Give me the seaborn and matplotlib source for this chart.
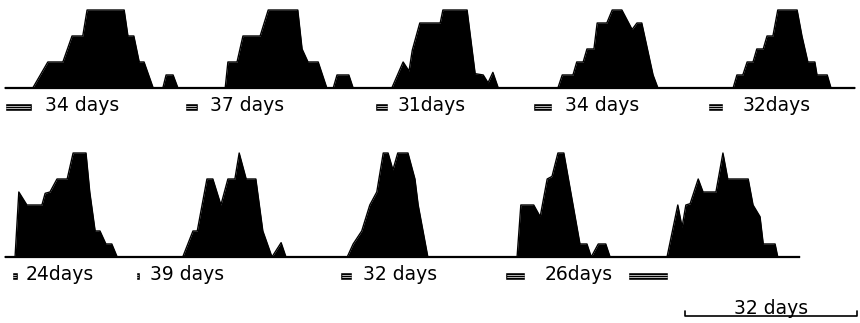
import matplotlib
matplotlib.use("Agg")
import matplotlib.pyplot as plt
import seaborn as sns
import numpy as np

# activity profiles, x in days, level in counts
row1_day = [0.9, 6.1, 8.9, 11.7, 13.4, 15.4, 16.2, 23.1, 23.8, 24.9, 25.9, 26.8, 28.5,
            30.3, 30.9, 32.2, 33.1,
            41.9, 42.4, 44.1, 45.2, 48.4, 49.9, 55.4, 56.2, 57.3, 59.2, 60.8,
            62.0, 62.7, 64.9, 65.7,
            72.9, 75.0, 76.1, 76.7, 78.1, 81.9, 82.4, 86.9, 88.4, 89.9, 90.8, 91.7, 92.7,
            103.8, 104.6, 106.6, 107.3, 108.5, 109.2, 110.5, 111.1, 112.9, 113.9, 115.7,
            117.6, 118.5, 119.4, 121.5, 122.4,
            136.4, 137.1, 138.2, 139.0, 140.1, 140.8, 142.0, 142.7, 143.8, 144.7, 148.3,
            149.2, 150.3, 151.6, 152.0, 153.9, 154.6, 159.1]
row1_level = [0, 0, 2, 2, 4, 4, 6, 6, 4, 4, 2, 2, 0,
              0, 1, 1, 0,
              0, 2, 2, 4, 4, 6, 6, 3, 2, 2, 0,
              0, 1, 1, 0,
              0, 2, 1.3, 2.9, 5, 5, 6, 6, 1.1, 1, 0.4, 1.2, 0,
              0, 1, 1, 2, 2, 3, 3, 5, 5, 6, 6,
              4.5, 5, 5, 1, 0,
              0, 1, 1, 2, 2, 3, 3, 4, 4, 6, 6,
              4, 2, 2, 1, 1, 0, 0]

row2_day = [0.9, 2.8, 3.5, 5.0, 7.8, 8.4, 9.3, 10.6, 12.5, 13.6, 16.0, 16.7, 17.7,
            18.6, 19.7, 20.8, 21.8,
            34.0, 35.9, 36.7, 38.5, 39.6, 41.1, 42.4, 43.7, 44.5, 45.8, 47.6, 48.9,
            50.6, 52.3, 53.2,
            64.6, 65.7, 67.3, 68.8, 70.1, 71.3, 72.2, 73.1, 74.0, 75.9, 77.2, 77.8, 79.6,
            96.2, 96.9, 99.3, 100.5, 101.8, 102.7, 103.8, 104.9, 107.9, 109.2, 110.0,
            111.3, 112.7, 113.5,
            124.1, 126.1, 126.9, 127.6, 128.4, 129.9, 130.8, 133.2, 134.5, 135.4, 139.2,
            140.1, 141.4, 142.0, 144.2, 144.7, 148.8]
row2_level = [0, 0, 5, 4, 4, 4.9, 5, 6, 6, 8, 8, 5, 2,
              2, 1, 1, 0,
              0, 2, 2, 6, 6, 4, 6, 6, 8, 6, 6, 2,
              0, 1.1, 0,
              0, 1, 2, 4, 5, 8, 8, 6.7, 8, 8, 6, 4, 0,
              0, 4, 4, 3.1, 6, 6.2, 8, 8, 1, 1, 0,
              1, 1, 0,
              0, 4, 2.3, 4, 4.1, 6, 5, 5, 8, 6, 6,
              4, 3.1, 1, 1, 0, 0]

# small bars under each cycle (start day, length in days) and cycle labels
row1_bar_start = [0.9, 34.4, 69.8, 99.2, 131.7]
row1_bar_len = [5.0, 2.4, 2.4, 3.5, 2.8]
row1_label_day = [8.4, 39.1, 74.0, 105.1, 138.2]
row1_labels = ["34 days", "37 days", "31days", "34 days", "32days"]

row2_bar_start = [2.2, 25.3, 63.3, 94.0, 116.8]
row2_bar_len = [1.1, 0.7, 2.2, 3.7, 7.5]
row2_label_day = [4.7, 27.9, 67.5, 101.4]
row2_labels = ["24days", "39 days", "32 days", "26days"]

scale_start = 127.4
scale_len = 32
scale_label = "32 days"

sns.set_style("white")
plt.rcParams["font.family"] = ["DejaVu Sans"]

fig = plt.figure(figsize=(8.6, 3.23), dpi=100)
ax1 = fig.add_axes([0, 0.613, 1, 0.387])
ax2 = fig.add_axes([0, 0.0, 1, 0.5975])


def draw_row(ax, day, level, bar_start, bar_len, label_day, labels, line_end):
    ax.fill_between(day, level, 0, color="black", lw=0)
    sns.lineplot(x=day, y=level, color="black", lw=1, sort=False, estimator=None, ax=ax)
    ax.plot([day[0], line_end], [0, 0], color="black", lw=1.6, solid_capstyle="butt")
    yb = -1.45
    ax.barh(yb, bar_len, left=bar_start, height=0.6, color="black")
    for s, w in zip(bar_start, bar_len):
        ax.plot([s + 0.25, s + w - 0.25], [yb - 0.1, yb - 0.1], color="white", lw=0.5)
        ax.plot([s + 0.25, s + w - 0.25], [yb + 0.1, yb + 0.1], color="white", lw=0.5)
    for x, t in zip(label_day, labels):
        ax.text(x, -1.38, t, ha="left", va="center", fontsize=13.5, color="black")


draw_row(ax1, row1_day, row1_level, row1_bar_start, row1_bar_len,
         row1_label_day, row1_labels, row1_day[-1])
draw_row(ax2, row2_day, row2_level, row2_bar_start, row2_bar_len,
         row2_label_day, row2_labels, row2_day[-1])

# scale bar
sx = [scale_start, scale_start, scale_start + scale_len, scale_start + scale_len]
ax2.plot(sx, [-4.15, -4.54, -4.54, -4.15], color="black", lw=1.2)
ax2.text(scale_start + scale_len / 2, -4.35, scale_label, ha="center", va="baseline",
         fontsize=13.5, color="black")

ax1.set_xlim(0, 160)
ax1.set_ylim(-2.85, 6.77)
ax2.set_xlim(0, 160)
ax2.set_ylim(-5.08, 9.77)
for ax in (ax1, ax2):
    ax.axis("off")

plt.savefig("out.png", dpi=100)
